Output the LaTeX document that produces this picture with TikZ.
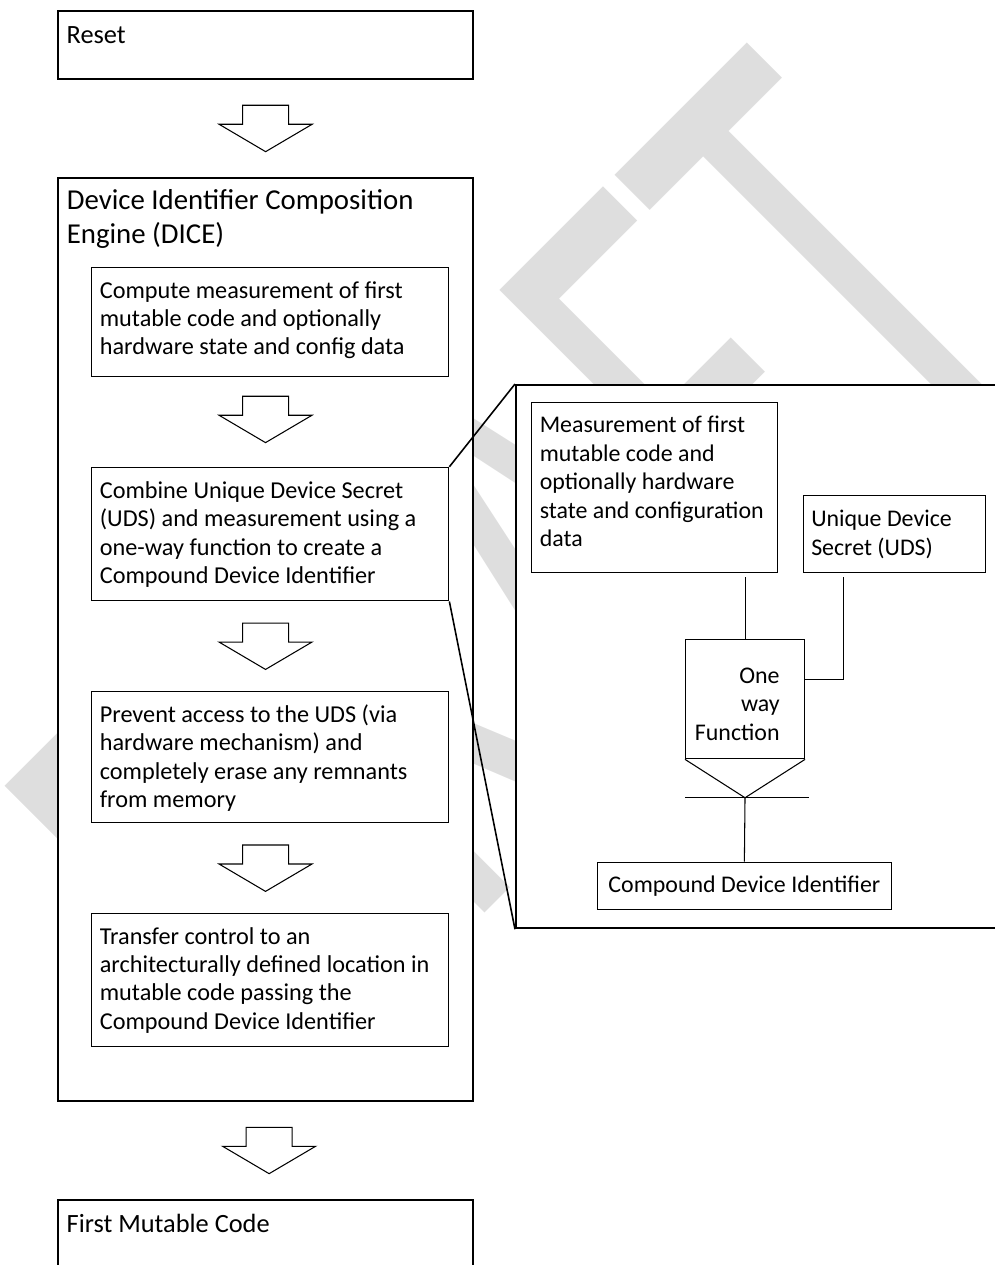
\documentclass[tikz,border=0pt]{standalone}
\usepackage{fontspec}
\usepackage{graphicx}
\setmainfont{Carlito}
\usetikzlibrary{calc}

\definecolor{wmgray}{RGB}{222,222,222}

\newcommand{\txthead}{\fontsize{15pt}{17.5pt}\selectfont}
\newcommand{\txttitle}{\fontsize{16.4pt}{19.1pt}\selectfont}
\newcommand{\txtbody}{\fontsize{13.8pt}{16.2pt}\selectfont}
\newcommand{\txtpanel}{\fontsize{13.6pt}{16.2pt}\selectfont}

\tikzset{
	outerbox/.style={draw, fill=white, line width=1.1pt, minimum width=8.294cm, anchor=north west, inner sep=0pt},
	innerbox/.style={draw, fill=white, line width=0.6pt, minimum width=7.152cm, anchor=north west, inner sep=0pt},
	plainbox/.style={draw, fill=white, line width=0.6pt, anchor=north west, inner sep=0pt},
	boxtext/.style={anchor=base west, inner sep=0pt, align=flush left, text width=8cm},
	link/.style={line width=0.6pt},
	zoomline/.style={line width=0.9pt},
	wmark/.style={rotate=45, anchor=base west, inner sep=0pt, text=wmgray,
		font=\fontsize{229.6pt}{230pt}\selectfont},
	blockarrow/.pic={
		\draw[fill=white, line width=0.6pt] (-0.46,0.464) -- (0.46,0.464) -- (0.46,0.084)
			-- (0.93,0.084) -- (0,-0.464) -- (-0.93,0.084) -- (-0.46,0.084) -- cycle;
	}
}

\begin{document}
\begin{tikzpicture}
	\useasboundingbox (0,0) rectangle (19.9,-25.3);

	% watermark
	\node[wmark] (draft) at (5.78,-22.19) {\scalebox{1}[1.66]{DRAFT}};

	% left column
	\node[outerbox, minimum height=1.36cm] (reset) at (1.146,-0.2) {};
	\node[boxtext, font=\txthead] (resettxt) at ([shift={(0.18,-0.666)}]reset.north west) {Reset};

	\node[outerbox, minimum height=18.46cm] (dice) at (1.146,-3.54) {};
	\node[boxtext, font=\txttitle] (dicetxt) at ([shift={(0.184,-0.65)}]dice.north west)
		{Device Identifier Composition\\Engine (DICE)};

	\node[outerbox, minimum height=1.45cm] (fmc) at (1.146,-23.98) {};
	\node[boxtext, font=\txthead] (fmctxt) at ([shift={(0.18,-0.674)}]fmc.north west) {First Mutable Code};

	% DICE steps
	\node[innerbox, minimum height=2.186cm] (compute) at (1.814,-5.334) {};
	\node[boxtext, font=\txtbody] (computetxt) at ([shift={(0.176,-0.626)}]compute.north west)
		{Compute measurement of first\\mutable code and optionally\\hardware state and config data};

	\node[innerbox, minimum height=2.672cm] (combine) at (1.814,-9.336) {};
	\node[boxtext, font=\txtbody] (combinetxt) at ([shift={(0.176,-0.63)}]combine.north west)
		{Combine Unique Device Secret\\(UDS) and measurement using a\\one-way function to create a\\Compound Device Identifier};

	\node[innerbox, minimum height=2.62cm] (prevent) at (1.814,-13.82) {};
	\node[boxtext, font=\txtbody] (preventtxt) at ([shift={(0.176,-0.626)}]prevent.north west)
		{Prevent access to the UDS (via\\hardware mechanism) and\\completely erase any remnants\\from memory};

	\node[innerbox, minimum height=2.654cm] (transfer) at (1.814,-18.266) {};
	\node[boxtext, font=\txtbody] (transfertxt) at ([shift={(0.176,-0.614)}]transfer.north west)
		{Transfer control to an\\architecturally defined location in\\mutable code passing the\\Compound Device Identifier};

	% block arrows
	\pic at ($(reset.south)!0.5!(dice.north)$) {blockarrow};
	\pic at ($(compute.south)!0.5!(combine.north)+(-0.09,0.05)$) {blockarrow};
	\pic at ($(combine.south)!0.5!(prevent.north)+(-0.09,0)$) {blockarrow};
	\pic at ($(prevent.south)!0.5!(transfer.north)+(-0.09,0)$) {blockarrow};
	\pic at ($(dice.south)!0.5!(fmc.north)+(0.07,0)$) {blockarrow};

	% detail of the combine step
	\node[plainbox, line width=1.1pt, minimum width=9.9cm, minimum height=10.866cm] (panel) at (10.3,-7.68) {};

	\node[plainbox, minimum width=4.926cm, minimum height=3.406cm] (meas) at (10.62,-8.034) {};
	\node[boxtext, font=\txtpanel] (meastxt) at ([shift={(0.168,-0.62)}]meas.north west)
		{Measurement of first\\mutable code and\\optionally hardware\\state and configuration\\data};

	\node[plainbox, minimum width=3.652cm, minimum height=1.54cm] (uds) at (16.054,-9.9) {};
	\node[boxtext, font=\txtpanel] (udstxt) at ([shift={(0.164,-0.634)}]uds.north west)
		{Unique Device\\Secret (UDS)};

	\node[plainbox, minimum width=2.38cm, minimum height=2.38cm] (owf) at (13.7,-12.786) {};
	\node[anchor=base east, inner sep=0pt, align=flush right, text width=2cm, font=\txtpanel] (owftxt)
		at ([shift={(1.9,-0.88)}]owf.north west) {One\\way\\Function};

	\node[plainbox, minimum width=5.886cm, minimum height=0.952cm, font=\txtpanel] (cdi) at (11.934,-17.234)
		{Compound Device Identifier};

	\coordinate (udsjoin) at ([yshift=0.396cm]owf.east);
	\coordinate (owftip) at ([yshift=-0.768cm]owf.south);

	\draw[link, shorten >=0.074cm] (owf.north) -- (owf.north |- meas.south);
	\draw[link, shorten >=0.074cm] (udsjoin) -| ([xshift=-1.014cm]uds.south);
	\draw[link] (owf.south west) -- (owftip) -- (owf.south east);
	\draw[line width=0.8pt] (owf.south west |- owftip) -- ([xshift=1.288cm]owftip);
	\draw[link] (owftip) -- (cdi.north);

	% zoom lines
	\draw[zoomline] (combine.north east) -- (panel.north west);
	\draw[zoomline] (combine.south east) -- (panel.south west);
\end{tikzpicture}
\end{document}
